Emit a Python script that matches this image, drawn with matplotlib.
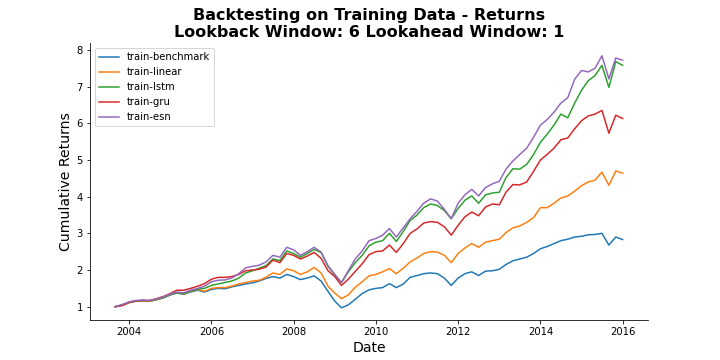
import numpy as np
import pandas as pd
import matplotlib
matplotlib.use('Agg')
import matplotlib.pyplot as plt

# 每兩個月一個點，2003-09 到 2016-01
dates = pd.date_range(start='2003-09-01', periods=75, freq='2MS')

benchmark = [1.00, 1.04, 1.11, 1.15, 1.16, 1.15, 1.19, 1.24, 1.32, 1.37,
             1.34, 1.40, 1.45, 1.40, 1.47, 1.50, 1.49, 1.54, 1.58, 1.62,
             1.65, 1.70, 1.77, 1.82, 1.78, 1.88, 1.82, 1.74, 1.78, 1.84,
             1.70, 1.42, 1.15, 0.97, 1.05, 1.20, 1.36, 1.46, 1.50, 1.52,
             1.63, 1.52, 1.62, 1.80, 1.85, 1.90, 1.92, 1.90, 1.78, 1.58,
             1.78, 1.90, 1.95, 1.85, 1.97, 1.98, 2.02, 2.15, 2.25, 2.30,
             2.35, 2.45, 2.58, 2.64, 2.72, 2.80, 2.84, 2.90, 2.92, 2.96,
             2.97, 3.00, 2.68, 2.90, 2.83]
linear = [1.00, 1.04, 1.11, 1.15, 1.16, 1.15, 1.19, 1.25, 1.33, 1.38,
          1.35, 1.42, 1.47, 1.42, 1.50, 1.52, 1.52, 1.56, 1.62, 1.66,
          1.70, 1.72, 1.80, 1.92, 1.88, 2.03, 1.98, 1.88, 1.95, 2.07,
          1.92, 1.56, 1.37, 1.22, 1.32, 1.53, 1.68, 1.84, 1.88, 1.95,
          2.04, 1.90, 2.05, 2.22, 2.33, 2.45, 2.50, 2.49, 2.40, 2.20,
          2.45, 2.60, 2.72, 2.62, 2.76, 2.80, 2.84, 3.02, 3.15, 3.20,
          3.30, 3.43, 3.70, 3.70, 3.82, 3.96, 4.02, 4.15, 4.30, 4.40,
          4.45, 4.67, 4.31, 4.70, 4.64]
lstm = [1.00, 1.05, 1.12, 1.16, 1.17, 1.16, 1.20, 1.25, 1.33, 1.38,
        1.36, 1.43, 1.48, 1.50, 1.58, 1.62, 1.66, 1.70, 1.78, 1.92,
        1.98, 2.05, 2.12, 2.30, 2.26, 2.52, 2.45, 2.35, 2.45, 2.56,
        2.48, 2.10, 1.86, 1.66, 1.95, 2.20, 2.40, 2.66, 2.76, 2.80,
        3.00, 2.78, 3.05, 3.35, 3.50, 3.70, 3.80, 3.76, 3.62, 3.40,
        3.68, 3.90, 4.02, 3.82, 4.05, 4.10, 4.12, 4.52, 4.76, 4.75,
        4.88, 5.15, 5.48, 5.70, 5.95, 6.25, 6.15, 6.55, 6.90, 7.16,
        7.30, 7.58, 6.98, 7.68, 7.58]
gru = [1.00, 1.03, 1.12, 1.16, 1.17, 1.17, 1.22, 1.28, 1.36, 1.45,
       1.45, 1.50, 1.56, 1.63, 1.75, 1.80, 1.80, 1.82, 1.88, 1.98,
       2.00, 2.02, 2.08, 2.27, 2.20, 2.45, 2.40, 2.30, 2.38, 2.48,
       2.32, 1.98, 1.82, 1.58, 1.75, 1.96, 2.17, 2.42, 2.50, 2.52,
       2.68, 2.48, 2.72, 3.00, 3.12, 3.28, 3.32, 3.30, 3.18, 2.95,
       3.22, 3.45, 3.58, 3.48, 3.72, 3.80, 3.78, 4.12, 4.33, 4.32,
       4.40, 4.69, 5.00, 5.15, 5.32, 5.55, 5.60, 5.85, 6.07, 6.20,
       6.25, 6.35, 5.73, 6.22, 6.13]
esn = [1.00, 1.06, 1.13, 1.17, 1.18, 1.17, 1.21, 1.27, 1.34, 1.40,
       1.38, 1.45, 1.50, 1.56, 1.68, 1.72, 1.73, 1.78, 1.90, 2.06,
       2.10, 2.13, 2.22, 2.40, 2.35, 2.62, 2.55, 2.40, 2.50, 2.62,
       2.49, 2.12, 1.88, 1.66, 1.98, 2.30, 2.52, 2.80, 2.86, 2.95,
       3.13, 2.90, 3.15, 3.40, 3.60, 3.82, 3.94, 3.88, 3.65, 3.40,
       3.82, 4.05, 4.20, 4.02, 4.25, 4.35, 4.42, 4.75, 4.97, 5.15,
       5.32, 5.62, 5.95, 6.10, 6.30, 6.55, 6.70, 7.20, 7.44, 7.40,
       7.50, 7.84, 7.21, 7.78, 7.72]

series = [('train-benchmark', benchmark), ('train-linear', linear),
          ('train-lstm', lstm), ('train-gru', gru), ('train-esn', esn)]

fig, ax = plt.subplots(figsize=(10, 5), dpi=72)
for name, vals in series:
    ax.plot(dates, vals, label=name, linewidth=1.5)

ax.set_title('Backtesting on Training Data - Returns\nLookback Window: 6 Lookahead Window: 1',
             fontsize=16, fontweight='bold')
ax.set_xlabel('Date', fontsize=14)
ax.set_ylabel('Cumulative Returns', fontsize=14)
ax.legend(loc='upper left')
ax.spines['top'].set_visible(False)
ax.spines['right'].set_visible(False)

fig.savefig('out.png', dpi=72)
